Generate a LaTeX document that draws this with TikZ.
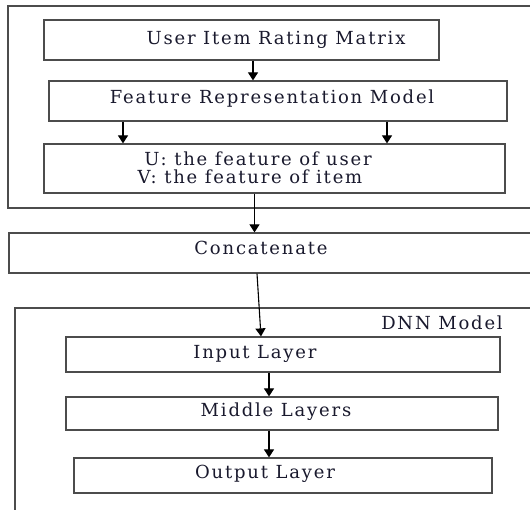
\documentclass[tikz,border=0pt]{standalone}
\usepackage{fontspec}
\setmainfont{DejaVu Serif}[LetterSpace=10]
\usetikzlibrary{arrows.meta}

\begin{document}
\begin{tikzpicture}[x=1pt,y=-1pt,
    box/.style={draw=black!70,line width=1.2pt,inner sep=0pt},
    lbl/.style={font=\fontsize{18}{21}\selectfont,text={rgb,255:red,25;green,25;blue,45}},
    arr/.style={draw=black,line width=1.1pt,-{Triangle[width=10pt,length=8pt]}}]
\useasboundingbox (0,0) rectangle (530,510);

% feature part
\draw[black!70,line width=1.2pt] (8,6) rectangle (545,208);
\node[box,minimum width=395pt,minimum height=40pt] (rating) at (241.5,40) {};
\node[lbl] (ratingtxt) at (276,40) {User Item Rating Matrix};
\node[box,minimum width=458pt,minimum height=40pt] (feature) at (278,101) {};
\node[lbl] (featuretxt) at (272,99) {Feature Representation Model};
\node[box,minimum width=461pt,minimum height=49pt] (uv) at (274.5,168.5) {};
\node[lbl] (utxt) at (258,158.5) {U: the feature of user};
\node[lbl] (vtxt) at (250,177) {V: the feature of item};

\node[box,minimum width=536pt,minimum height=40pt] (concat) at (277,253) {};
\node[lbl] (concattxt) at (261,248) {Concatenate};

% DNN part
\draw[black!70,line width=1.2pt] (15,308) rectangle (545,525);
\node[lbl] (dnntxt) at (442,323) {DNN Model};
\node[box,minimum width=434pt,minimum height=35pt] (input) at (283,354.5) {};
\node[lbl] (inputtxt) at (255,354) {Input Layer};
\node[box,minimum width=432pt,minimum height=33pt] (middle) at (282,413.5) {};
\node[lbl] (middletxt) at (276,412) {Middle Layers};
\node[box,minimum width=418pt,minimum height=35pt] (output) at (283,475.5) {};
\node[lbl] (outputtxt) at (265,474) {Output Layer};

% connectors
\coordinate (a1) at (253,0);
\coordinate (a2) at (123,0);
\coordinate (a3) at (387,0);
\coordinate (a4) at (254.5,0);
\coordinate (a5) at (257,0);
\coordinate (a6) at (261,0);
\coordinate (a7) at (269,0);
\draw[arr] (rating.south -| a1) -- (feature.north -| a1);
\draw[arr] (feature.south -| a2) -- (uv.north -| a2);
\draw[arr] (feature.south -| a3) -- (uv.north -| a3);
\draw[arr] (uv.south -| a4) -- (concat.north -| a4);
\draw[arr] (concat.south -| a5) -- (input.north -| a6);
\draw[arr] (input.south -| a7) -- (middle.north -| a7);
\draw[arr] (middle.south -| a7) -- (output.north -| a7);
\end{tikzpicture}
\end{document}
